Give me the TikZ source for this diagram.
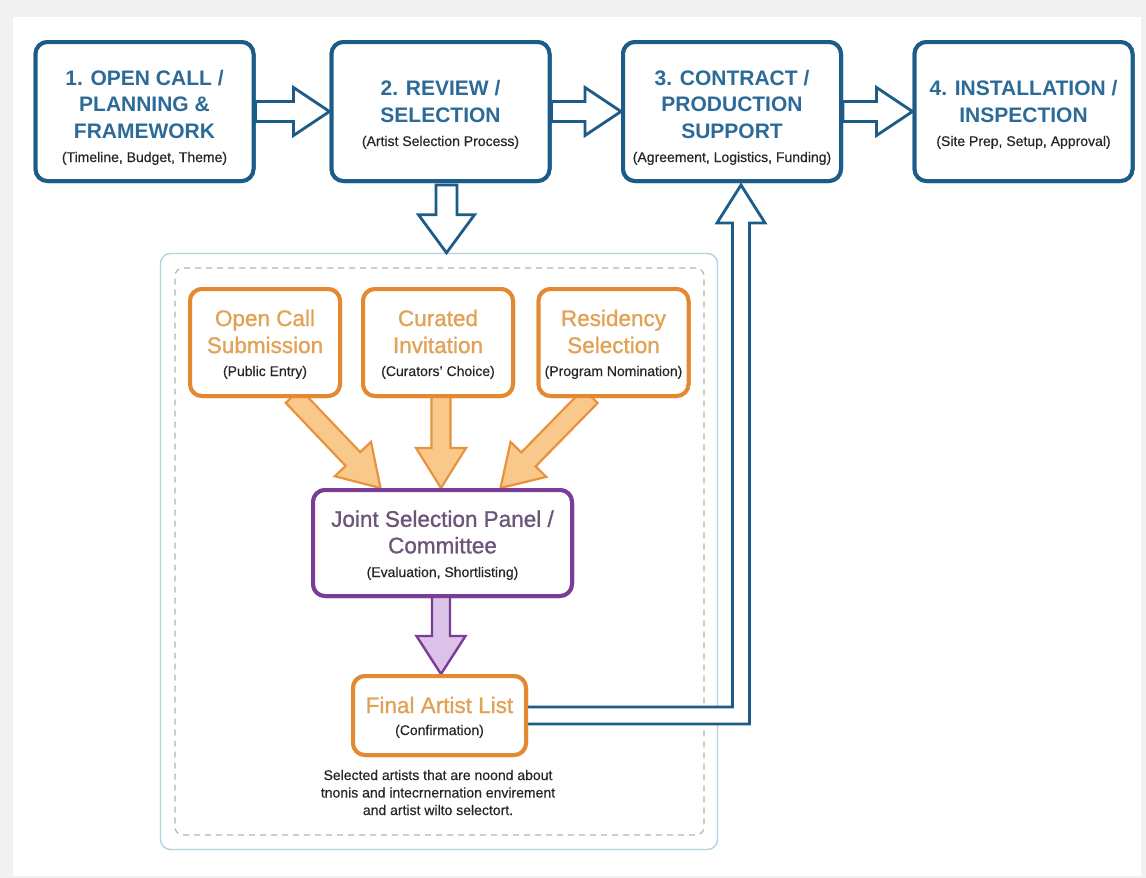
\documentclass[tikz,border=0pt]{standalone}
\usepackage{fontspec}
\setmainfont{Liberation Sans}
\newfontfamily\medfont[FakeBold=1.1]{Liberation Sans}
\newfontfamily\subfont[FakeBold=0.4]{Liberation Sans}
\usetikzlibrary{calc}

\definecolor{bgGray}{HTML}{F1F1F1}
\definecolor{boxBlue}{HTML}{1D5C88}
\definecolor{txtBlue}{HTML}{2C6B97}
\definecolor{orBorder}{HTML}{E38A30}
\definecolor{orText}{HTML}{E1A255}
\definecolor{orFill}{HTML}{F9C98C}
\definecolor{orStroke}{HTML}{E8933C}
\definecolor{puBorder}{HTML}{7B3C96}
\definecolor{puText}{HTML}{6C5579}
\definecolor{puFill}{HTML}{DCC2E8}
\definecolor{contBlue}{HTML}{B5D2DF}
\definecolor{dashGray}{HTML}{B3B3B3}
\definecolor{subText}{HTML}{262626}

% block arrow: start, end, half shaft, half head, head length, style
\newcommand{\blockarr}[6]{%
  \coordinate (baH) at ($(#2)!#5!(#1)$);
  \filldraw[#6] ($(#1)!#3!90:(#2)$) -- ($(baH)!#3!-90:(#1)$) -- ($(baH)!#4!-90:(#1)$)
    -- (#2) -- ($(baH)!#4!90:(#1)$) -- ($(baH)!#3!90:(#1)$) -- ($(#1)!#3!-90:(#2)$) -- cycle;}

\tikzset{
  stage/.style={draw=boxBlue, line width=4pt, rounded corners=12pt, fill=white,
    minimum width=218pt, minimum height=139pt, inner sep=0pt},
  srcbox/.style={draw=orBorder, line width=4pt, rounded corners=12pt, fill=white,
    minimum width=150pt, minimum height=107pt, inner sep=0pt},
  panelbox/.style={draw=puBorder, line width=4pt, rounded corners=12pt, fill=white,
    minimum width=259pt, minimum height=106pt, inner sep=0pt},
  finbox/.style={draw=orBorder, line width=4pt, rounded corners=12pt, fill=white,
    minimum width=173pt, minimum height=79pt, inner sep=0pt},
  ttl/.style={font=\fontsize{21}{26.5}\selectfont\bfseries, text=txtBlue, align=center, inner sep=0pt},
  otl/.style={font={\medfont\fontsize{22.5}{27}\selectfont}, text=orText, align=center, inner sep=0pt},
  ptl/.style={font={\medfont\fontsize{22.5}{26.5}\selectfont}, text=puText, align=center, inner sep=0pt},
  sub/.style={font={\subfont\fontsize{14}{17}\selectfont}, text=subText, anchor=base, inner sep=0pt},
  note/.style={font={\subfont\fontsize{14}{17.5}\selectfont}, text=subText, align=center, inner sep=0pt},
  bluearr/.style={draw=boxBlue, fill=white, line width=2.8pt, line join=miter},
  orarr/.style={draw=orStroke, fill=orFill, line width=2.2pt, line join=miter},
  puarr/.style={draw=puBorder, fill=puFill, line width=2.4pt, line join=miter},
}

\begin{document}
\begin{tikzpicture}[x=1pt, y=-1pt]
\useasboundingbox (0,0) rectangle (1146,878);
\fill[bgGray] (0,0) rectangle (1146,878);
\fill[white] (13,17) rectangle (1141,876);

% container
\node[draw=contBlue, line width=1.4pt, rounded corners=10pt, minimum width=557pt, minimum height=596pt, inner sep=0pt] (cont) at (439,551.5) {};
\node[draw=dashGray, line width=1.2pt, dash pattern=on 6pt off 5pt, rounded corners=8pt, minimum width=529pt, minimum height=567pt, inner sep=0pt] (dashbox) at (439.5,551.5) {};

% stage boxes
\node[stage] (b1) at (144.5,111.5) {};
\node[stage] (b2) at (440.5,111.5) {};
\node[stage] (b3) at (732,111.5) {};
\node[stage] (b4) at (1023.5,111.5) {};

% source boxes
\node[srcbox] (s1) at (265,342.5) {};
\node[srcbox] (s2) at (438,342.5) {};
\node[srcbox] (s3) at (613.5,342.5) {};

\node[panelbox] (panel) at (442.5,543) {};
\node[finbox] (fin) at (439.5,715.5) {};

% arrows between stages
\blockarr{b1.east}{b2.west}{10pt}{24pt}{36pt}{bluearr}
\blockarr{b2.east}{b3.west}{10pt}{24pt}{36pt}{bluearr}
\blockarr{b3.east}{b4.west}{10pt}{24pt}{36pt}{bluearr}

% down arrow into container
\coordinate (dnS) at ($(b2.south)+(6,2)$);
\coordinate (dnE) at (dnS |- cont.north);
\blockarr{dnS}{dnE}{10.5pt}{28pt}{38pt}{bluearr}

% orange arrows
\coordinate (o1s) at ($(s1.south)+(28,-2)$);
\coordinate (o1e) at ($(panel.north)+(-62,0)$);
\coordinate (o2s) at ($(s2.south)+(3,-2)$);
\coordinate (o2e) at (o2s |- panel.north);
\coordinate (o3s) at ($(s3.south)+(-23,-2)$);
\coordinate (o3e) at ($(panel.north)+(58,0)$);
\blockarr{o1s}{o1e}{10pt}{25pt}{40pt}{orarr}
\blockarr{o2s}{o2e}{9.5pt}{25pt}{40pt}{orarr}
\blockarr{o3s}{o3e}{10pt}{25pt}{40pt}{orarr}

% purple arrow
\coordinate (ps) at ($(panel.south)+(-1.5,-2)$);
\coordinate (pe) at (ps |- fin.north);
\blockarr{ps}{pe}{9pt}{24.5pt}{38pt}{puarr}

% return arrow from final list to stage 3
\coordinate (retTip) at ($(b3.south)+(9,2)$);
\coordinate (retC) at (retTip |- fin.east);
\filldraw[bluearr] ($(fin.east)+(-2,-8.5)$) -- ($(retC)+(-8.5,-8.5)$) -- ($(retTip)+(-8.5,38)$)
  -- ($(retTip)+(-24,38)$) -- (retTip) -- ($(retTip)+(24,38)$) -- ($(retTip)+(8.5,38)$)
  -- ($(retC)+(8.5,8.5)$) [rounded corners=0pt] -- ($(fin.east)+(-2,8.5)$) -- cycle;

% redraw boxes on top of arrow ends
\node[stage] at (b1) {};
\node[stage] at (b2) {};
\node[stage] at (b3) {};
\node[stage] at (b4) {};
\node[srcbox] at (s1) {};
\node[srcbox] at (s2) {};
\node[srcbox] at (s3) {};
\node[panelbox] at (panel) {};
\node[finbox] at (fin) {};

% texts
\node[ttl] (t1) at (144.5,104) {1. OPEN CALL /\\PLANNING \&\\FRAMEWORK};
\node[sub] (u1) at (144.5,162) {(Timeline, Budget, Theme)};
\node[ttl] (t2) at (440.5,101.5) {2. REVIEW /\\SELECTION};
\node[sub] (u2) at (440.5,146) {(Artist Selection Process)};
\node[ttl] (t3) at (732,104) {3. CONTRACT /\\PRODUCTION\\SUPPORT};
\node[sub] (u3) at (732,162) {(Agreement, Logistics, Funding)};
\node[ttl] (t4) at (1023.5,101.5) {4. INSTALLATION /\\INSPECTION};
\node[sub] (u4) at (1023.5,146) {(Site Prep, Setup, Approval)};

\node[otl] (ts1) at (265,331.5) {Open Call\\Submission};
\node[sub] (us1) at (265,376) {(Public Entry)};
\node[otl] (ts2) at (438,331.5) {Curated\\Invitation};
\node[sub] (us2) at (438,376) {(Curators’ Choice)};
\node[otl] (ts3) at (613.5,331.5) {Residency\\Selection};
\node[sub] (us3) at (613.5,376) {(Program Nomination)};

\node[ptl] (tp) at (442.5,532) {Joint Selection Panel /\\Committee};
\node[sub] (up) at (442.5,577) {(Evaluation, Shortlisting)};

\node[otl] (tf) at (439.5,705) {Final Artist List};
\node[sub] (uf) at (439.5,735) {(Confirmation)};

\node[note] (nt) at (438,792.5) {Selected artists that are noond about\\tnonis and intecrnernation envirement\\and artist wilto selectort.};
\end{tikzpicture}
\end{document}
